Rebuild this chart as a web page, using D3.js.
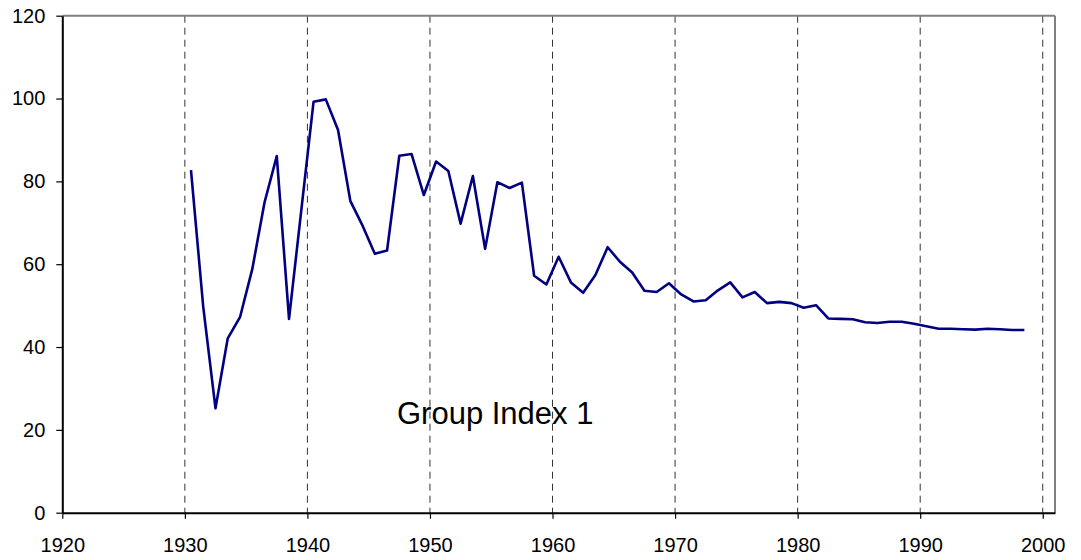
<!DOCTYPE html>
<html>
<head>
<meta charset="utf-8">
<script src="https://cdn.jsdelivr.net/npm/d3@7"></script>
<style>
  body { margin: 0; background: #fff; }
  svg { font-family: "Liberation Sans", Arial, sans-serif; }
</style>
</head>
<body>
<svg id="chart"></svg>
<script>
// annual values, plotted at mid-year
var years = [1930,1931,1932,1933,1934,1935,1936,1937,1938,1939,
             1940,1941,1942,1943,1944,1945,1946,1947,1948,1949,
             1950,1951,1952,1953,1954,1955,1956,1957,1958,1959,
             1960,1961,1962,1963,1964,1965,1966,1967,1968,1969,
             1970,1971,1972,1973,1974,1975,1976,1977,1978,1979,
             1980,1981,1982,1983,1984,1985,1986,1987,1988,1989,
             1990,1991,1992,1993,1994,1995,1996,1997,1998]
var values = [82.7,49.7,25.2,42.1,47.2,58.8,74.9,86.1,46.8,73.0,
              99.2,99.8,92.4,75.3,69.3,62.5,63.3,86.2,86.6,76.7,
              84.8,82.5,69.8,81.3,63.7,79.8,78.4,79.7,57.2,55.1,
              61.8,55.6,53.1,57.4,64.1,60.6,58.0,53.6,53.3,55.4,
              52.7,51.0,51.3,53.7,55.6,52.0,53.3,50.6,50.9,50.6,
              49.5,50.1,46.9,46.8,46.7,46.0,45.8,46.1,46.1,45.6,
              45.0,44.4,44.4,44.3,44.2,44.4,44.3,44.1,44.1]
var xTicks = [1920,1930,1940,1950,1960,1970,1980,1990,2000]
var yTicks = [0,20,40,60,80,100,120]
var seriesLabel = "Group Index 1"

var W = 1081, H = 560
var margin = {top: 15.7, right: 26, bottom: 47.3, left: 62.3},
    w = W - margin.left - margin.right,
    h = H - margin.top - margin.bottom

var svg = d3.select("#chart").attr("width", W).attr("height", H)
var g = svg.append("g").attr("transform", `translate(${margin.left},${margin.top})`)

var x = d3.scaleLinear().domain([1920, 2001]).range([0, w])
var y = d3.scaleLinear().domain([0, 120]).range([h, 0])

// dashed vertical gridlines
g.selectAll(".grid")
    .data(xTicks.filter(d => d > 1920))
    .join("line")
    .attr("x1", d => x(d)).attr("x2", d => x(d))
    .attr("y1", 0).attr("y2", h)
    .attr("stroke", "#333")
    .attr("stroke-width", 1)
    .attr("stroke-dasharray", "7,5")

// frame: top and right grey
g.append("line").attr("x1", 0).attr("x2", w).attr("y1", 0).attr("y2", 0)
    .attr("stroke", "#808080").attr("stroke-width", 2)
g.append("line").attr("x1", w).attr("x2", w).attr("y1", 0).attr("y2", h)
    .attr("stroke", "#808080").attr("stroke-width", 2)

var xAxis = d3.axisBottom(x).tickValues(xTicks).tickFormat(d3.format("d"))
    .tickSizeInner(6).tickSizeOuter(0).tickPadding(19)
var gx = g.append("g").attr("transform", `translate(0,${h})`).call(xAxis)

var yAxis = d3.axisLeft(y).tickValues(yTicks)
    .tickSizeInner(6).tickSizeOuter(0).tickPadding(11)
var gy = g.append("g").call(yAxis)

;[gx, gy].forEach(a => {
    a.select(".domain").attr("stroke", "#000").attr("stroke-width", 2)
    a.selectAll(".tick line").attr("stroke", "#000").attr("stroke-width", 1.2)
    a.selectAll(".tick text").attr("font-size", "20px").attr("fill", "#000")
        .style("font-family", "'Liberation Sans', Arial, sans-serif")
})

var line = d3.line()
    .x((d, i) => x(years[i] + 0.5))
    .y(d => y(d))

g.append("path")
    .datum(values)
    .attr("fill", "none")
    .attr("stroke", "#000080")
    .attr("stroke-width", 2.6)
    .attr("stroke-linejoin", "round")
    .attr("d", line)

g.append("text")
    .attr("x", 397 - margin.left)
    .attr("y", 424 - margin.top)
    .attr("font-size", "31px")
    .attr("fill", "#000")
    .text(seriesLabel)
</script>
</body>
</html>
